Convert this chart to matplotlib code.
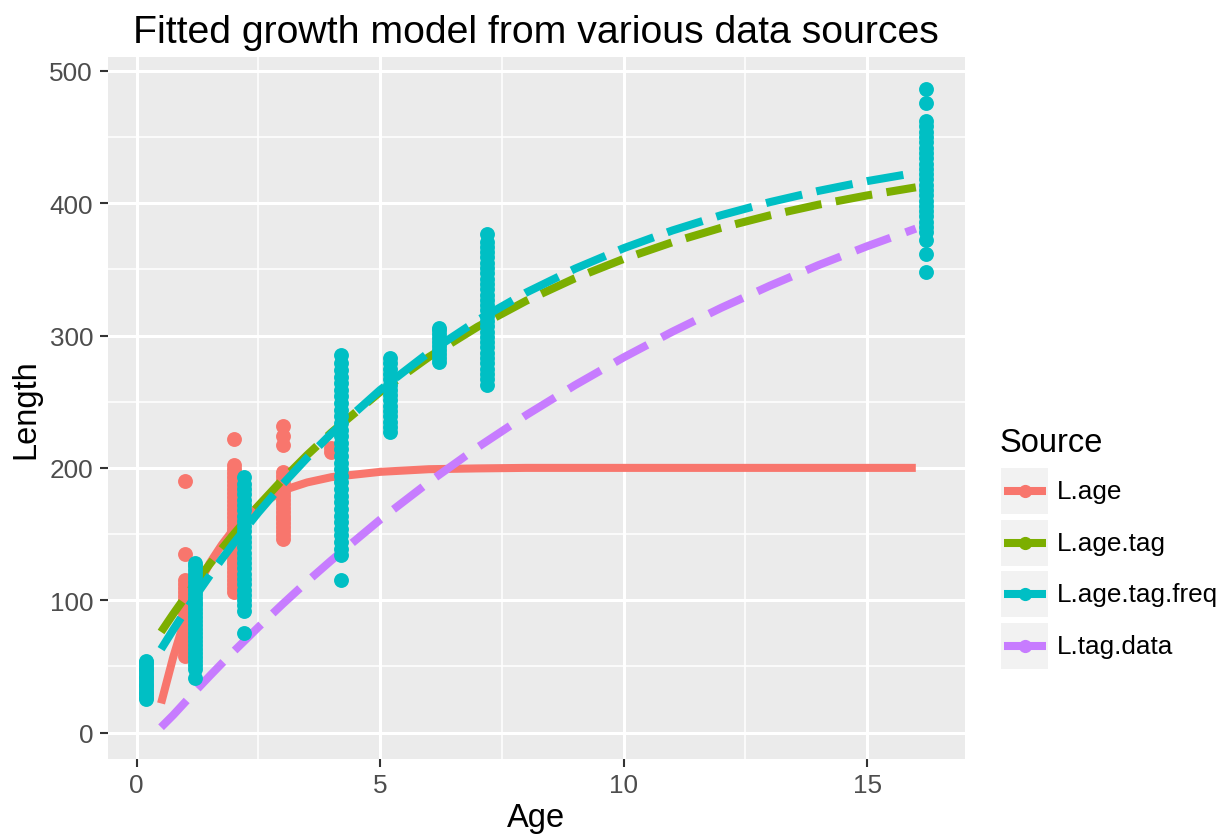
import matplotlib
matplotlib.use("Agg")
import matplotlib.pyplot as plt
from matplotlib.patches import Rectangle

plt.rcParams['font.family'] = ['Liberation Sans', 'DejaVu Sans']

# legend / series
sources = ['L.age', 'L.age.tag', 'L.age.tag.freq', 'L.tag.data']
colors = ['#F8766D', '#7CAE00', '#00BFC4', '#C77CFF']

# fitted curves
fit_age = [0.5, 0.75, 1, 1.25, 1.5, 1.75, 2, 2.5, 3, 3.5, 4, 5, 6, 7, 8, 9,
           10, 11, 12, 13, 14, 15, 16]
fit_l_age = [22, 57, 87, 110, 128, 142, 154, 171, 183, 189, 193, 197, 199,
             199.6, 200, 200, 200, 200, 200, 200, 200, 200, 200]
fit_l_age_tag = [76, 89.6, 102.6, 115.2, 127.3, 139, 150.2, 171.5, 191.3,
                 209.7, 226.8, 257.4, 283.8, 306.6, 326.3, 343.3, 357.9,
                 370.5, 381.4, 390.8, 398.9, 405.9, 412]
fit_l_age_tag_freq = [63, 77.7, 91.8, 105.4, 118.6, 131.2, 143.4, 166.4,
                      187.8, 207.6, 226, 258.9, 287.2, 311.5, 332.5, 350.5,
                      366, 379.4, 390.9, 400.8, 409.3, 416.7, 423]
fit_l_tag_data = [4, 13.2, 23.2, 33.1, 42.8, 52.3, 61.6, 79.7, 97.2, 114.1,
                  130.2, 160.9, 189.2, 215.5, 239.9, 262.5, 283.5, 302.9,
                  320.9, 337.6, 353.2, 367.5, 380.8]

# observed lengths, L.age source (red)
age_obs_ages = [1.0, 2.0, 3.0, 4.0]
age_obs_len = [
    [58, 61, 64, 67, 70, 73, 76, 79, 82, 85, 88, 91, 94, 97, 100, 103, 106, 109,
     112, 115, 135, 190],
    [106, 109, 112, 115, 118, 121, 124, 127, 130, 133, 136, 139, 142, 145, 148,
     151, 154, 157, 160, 163, 166, 169, 172, 175, 178, 181, 184, 187, 190, 193,
     196, 199, 202, 222],
    [146, 149, 152, 155, 158, 161, 164, 167, 170, 173, 176, 179, 182, 185, 188,
     191, 194, 197, 217, 224, 232],
    [212, 215],
]

# observed lengths, L.age.tag.freq source (cyan)
freq_obs_ages = [0.2, 1.2, 2.2, 4.2, 5.2, 6.2, 7.2, 16.2]
freq_obs_len = [
    [25, 27, 29, 31, 33, 35, 37, 39, 41, 43, 45, 47, 49, 51, 53, 54],
    [41, 48, 51, 54, 57, 60, 63, 66, 69, 72, 75, 78, 81, 84, 87, 90, 93, 96, 99,
     102, 105, 108, 111, 114, 117, 120, 123, 126, 128],
    [75, 92, 96, 100, 104, 108, 112, 116, 120, 124, 128, 132, 136, 140, 144, 148,
     152, 156, 160, 164, 168, 172, 176, 180, 184, 188, 193],
    [115, 134, 139, 144, 149, 154, 159, 164, 169, 174, 179, 184, 189, 194, 199,
     204, 209, 214, 219, 224, 229, 234, 239, 244, 249, 254, 259, 264, 269, 274,
     279, 285],
    [227, 231, 235, 239, 243, 247, 251, 255, 259, 263, 267, 271, 275, 279, 283],
    [280, 283, 286, 289, 292, 295, 298, 301, 304, 306],
    [263, 267, 271, 275, 279, 283, 287, 291, 295, 299, 303, 307, 311, 315, 319,
     323, 327, 331, 335, 339, 343, 347, 351, 355, 359, 363, 367, 371, 377],
    [348, 362, 372, 378, 382, 386, 390, 394, 398, 402, 406, 410, 414, 418, 422,
     426, 430, 434, 438, 442, 446, 450, 454, 458, 462, 476, 486],
]

x_ticks = [0, 5, 10, 15]
y_ticks = [0, 100, 200, 300, 400, 500]

W, H = 1229, 837
fig = plt.figure(figsize=(W / 100, H / 100), dpi=100)
left, right, top, bottom = 107.5, 964.5, 58, 760
ax = fig.add_axes([left / W, 1 - bottom / H, (right - left) / W, (bottom - top) / H])
ax.set_facecolor('#EBEBEB')
for s in ax.spines.values():
    s.set_visible(False)

ax.set_xlim(-0.6, 17.0)
ax.set_ylim(-20, 510.5)

# grid like ggplot
for x in [2.5, 7.5, 12.5]:
    ax.axvline(x, color='white', lw=1.1, zorder=0.5)
for y in range(50, 500, 100):
    ax.axhline(y, color='white', lw=1.1, zorder=0.5)
for x in x_ticks:
    ax.axvline(x, color='white', lw=2.2, zorder=0.6)
for y in y_ticks:
    ax.axhline(y, color='white', lw=2.2, zorder=0.6)

lw = 5.8
ms = 115

for a, vals in zip(age_obs_ages, age_obs_len):
    ax.scatter([a] * len(vals), vals, s=ms, color=colors[0], lw=0, zorder=2)

ax.plot(fit_age, fit_l_age, color=colors[0], lw=lw, solid_capstyle='butt', zorder=3)
ax.plot(fit_age, fit_l_age_tag, color=colors[1], lw=lw, dashes=(4.6, 1.8),
        dash_capstyle='butt', zorder=3)
ax.plot(fit_age, fit_l_age_tag_freq, color=colors[2], lw=lw, dashes=(4.6, 1.8),
        dash_capstyle='butt', zorder=3.1)
ax.plot(fit_age, fit_l_tag_data, color=colors[3], lw=lw, dashes=(4.6, 2.0),
        dash_capstyle='butt', zorder=3)

for a, vals in zip(freq_obs_ages, freq_obs_len):
    ax.scatter([a] * len(vals), vals, s=ms, color=colors[2], lw=0, zorder=4)

ax.set_xticks(x_ticks)
ax.set_yticks(y_ticks)
ax.tick_params(length=5.9, width=1.5, color='#333333', labelcolor='#4D4D4D',
               labelsize=18.8, pad=4.5)
ax.set_xlabel('Age', fontsize=23.5, labelpad=3)
ax.set_ylabel('Length', fontsize=23.5, labelpad=6)
ax.set_title('Fitted growth model from various data sources', fontsize=28.3, pad=11)

# legend drawn by hand in pixel coordinates
lax = fig.add_axes([0, 0, 1, 1])
lax.set_xlim(0, W)
lax.set_ylim(H, 0)
lax.axis('off')
lax.text(1000, 443, 'Source', fontsize=23.5, ha='left', va='center')
key_y = [492, 544, 595, 647]
for name, c, yc in zip(sources, colors, key_y):
    lax.add_patch(Rectangle((1001, yc - 23), 47, 46, fc='#F2F2F2', ec='none'))
    lax.plot([1004, 1046], [yc, yc], color=c, lw=lw, solid_capstyle='butt')
    lax.plot([1025], [yc], 'o', color=c, ms=9.5, mew=0)
    lax.text(1057, yc, name, fontsize=18.8, ha='left', va='center')

fig.savefig('out.png', dpi=100)
